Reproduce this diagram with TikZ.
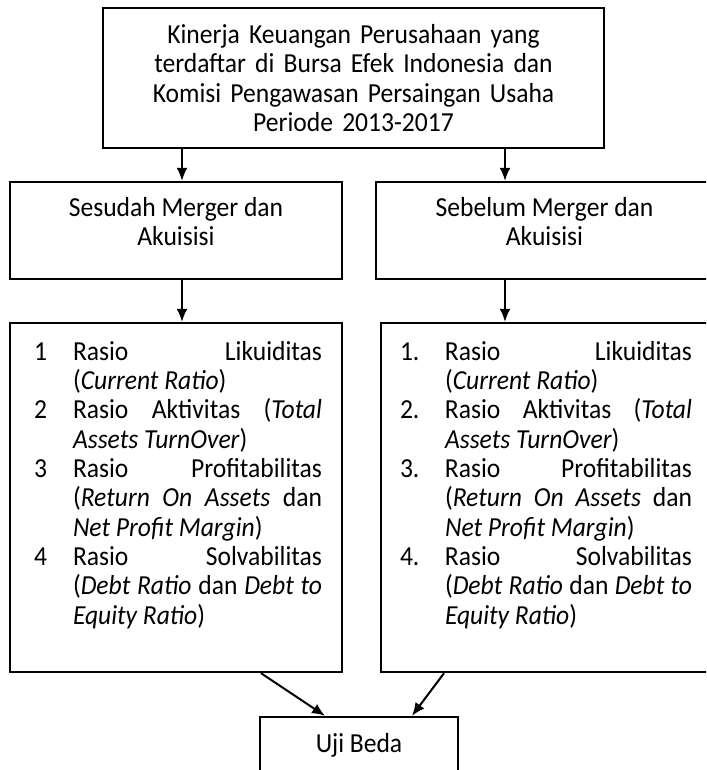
\documentclass[tikz,border=0pt]{standalone}
\usepackage{fontspec}
\setmainfont{Carlito}[FakeStretch=0.93]
\usetikzlibrary{arrows.meta,calc}
\tikzset{>={Latex[length=13pt,width=11pt]}}
\newcommand{\butir}[3]{\par\noindent\hangindent=#2\hangafter=1\makebox[#2][l]{#1}#3\par}

\begin{document}
\begin{tikzpicture}[x=1pt, y=-1pt, line width=2.4pt,
    font=\fontsize{27.5pt}{29.3pt}\selectfont,
    kotak/.style={draw, rectangle, inner sep=0pt},
    daftar/.style={inner sep=0pt, align=justify},
    panah/.style={->, line width=2pt}]
    \fill [white] (0,0) rectangle (706,770);
    \path [use as bounding box] (0,0) rectangle (706,770);
    \clip (0,0) rectangle (706,770);
    % judul penelitian
    \node [kotak, minimum width=501pt, minimum height=140pt, text width=470pt, align=center](judul) at (353.5,78) {Kinerja Keuangan Perusahaan yang\\terdaftar di Bursa Efek Indonesia dan\\Komisi Pengawasan Persaingan Usaha\\Periode 2013-2017};
    % sesudah dan sebelum
    \node [kotak, minimum width=332pt, minimum height=97pt](sesudah) at (176,230.5){};
    \node at (sesudah.north) [anchor=north, yshift=-15pt, align=center, inner sep=0pt] {Sesudah Merger dan\\Akuisisi};
    \node [kotak, minimum width=337pt, minimum height=97pt](sebelum) at (544.5,230.5){};
    \node at (sebelum.north) [anchor=north, yshift=-15pt, align=center, inner sep=0pt] {Sebelum Merger dan\\Akuisisi};
    % rasio keuangan
    \node [kotak, minimum width=332pt, minimum height=349pt](kiri) at (176,497.5){};
    \node at (kiri.north west) [daftar, anchor=north west, xshift=24pt, yshift=-8pt, text width=288pt] {%
      \butir{1}{39pt}{Rasio Likuiditas\linebreak(\textit{Current Ratio})}
      \butir{2}{39pt}{Rasio Aktivitas (\textit{Total}\linebreak\textit{Assets TurnOver})}
      \butir{3}{39pt}{Rasio Profitabilitas\linebreak(\textit{Return On Assets} dan\linebreak\textit{Net Profit Margin})}
      \butir{4}{39pt}{Rasio Solvabilitas\linebreak(\textit{Debt Ratio} dan \textit{Debt to}\linebreak\textit{Equity Ratio})}};
    \node [kotak, minimum width=332pt, minimum height=349pt](kanan) at (547,497.5){};
    \node at (kanan.north west) [daftar, anchor=north west, xshift=19pt, yshift=-8pt, text width=292pt] {%
      \butir{1.}{45pt}{Rasio Likuiditas\linebreak(\textit{Current Ratio})}
      \butir{2.}{45pt}{Rasio Aktivitas (\textit{Total}\linebreak\textit{Assets TurnOver})}
      \butir{3.}{45pt}{Rasio Profitabilitas\linebreak(\textit{Return On Assets} dan\linebreak\textit{Net Profit Margin})}
      \butir{4.}{45pt}{Rasio Solvabilitas\linebreak(\textit{Debt Ratio} dan \textit{Debt to}\linebreak\textit{Equity Ratio})}};
    % uji beda
    \node [kotak, minimum width=198pt, minimum height=80pt](uji) at (359,757){};
    \node at (uji.north) [anchor=north, yshift=-16pt, inner sep=0pt] {Uji Beda};
    % panah
    \draw [panah] ([xshift=-171.5pt]judul.south) -- ([xshift=-171.5pt]judul.south |- sesudah.north);
    \draw [panah] ([xshift=151.5pt]judul.south) -- ([xshift=151.5pt]judul.south |- sebelum.north);
    \draw [panah] ([xshift=6pt]sesudah.south) -- ([xshift=6pt]sesudah.south |- kiri.north);
    \draw [panah] ([xshift=-39.5pt]sebelum.south) -- ([xshift=-39.5pt]sebelum.south |- kanan.north);
    \draw [panah] ([xshift=85pt]kiri.south) -- ([xshift=-34pt]uji.north);
    \draw [panah] ([xshift=-103pt]kanan.south) -- ([xshift=53pt]uji.north);
\end{tikzpicture}
\end{document}
